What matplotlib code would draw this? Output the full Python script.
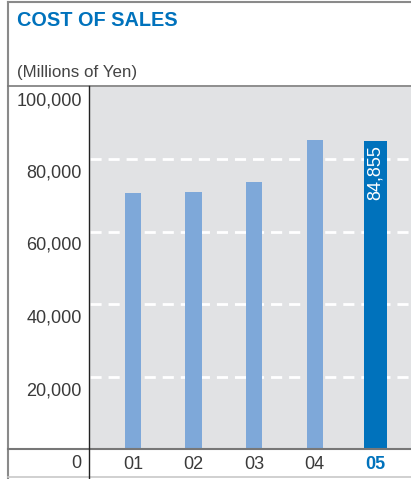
import matplotlib
matplotlib.use("Agg")
import matplotlib.pyplot as plt
from matplotlib.lines import Line2D
from matplotlib.transforms import ScaledTranslation

plt.rcParams['font.family'] = ['Liberation Sans', 'DejaVu Sans']

years = ['01', '02', '03', '04', '05']
cost_of_sales = [70600, 70900, 73700, 85200, 84855]
y_ticks = [0, 20000, 40000, 60000, 80000, 100000]
y_labels = ['0', '20,000', '40,000', '60,000', '80,000', '100,000']

W, H = 411, 479
fig = plt.figure(figsize=(W / 100, H / 100), dpi=100)

def fx(px):
    return px / W

def fy(py):
    return 1 - py / H

ax = fig.add_axes([fx(90), fy(449), 1 - fx(90), fy(86.5) - fy(449)])
ax.set_facecolor('#e1e2e4')
for s in ax.spines.values():
    s.set_visible(False)

light = '#7ea8d9'
dark = '#0072bc'
x = list(range(len(years)))
widths = [0.27] * 4 + [0.38]
colors = [light] * 4 + [dark]
ax.bar(x, cost_of_sales, width=widths, color=colors, zorder=3)

for v in y_ticks[1:-1]:
    ax.axhline(v, color='white', lw=2, ls=(0, (4, 2.5)), zorder=2)

ax.set_xlim(-0.71, 4.59)
ax.set_ylim(0, 100000)

ax.set_yticks(y_ticks)
ax.set_yticklabels(y_labels, fontsize=13, color='#3a3a3a')
ax.tick_params(axis='y', length=0, pad=6)
off = ScaledTranslation(0, -12 / 100, fig.dpi_scale_trans)
for lab in ax.get_yticklabels():
    lab.set_transform(lab.get_transform() + off)

ax.set_xticks(x)
ax.set_xticklabels(years, fontsize=13, color='#3a3a3a')
ax.tick_params(axis='x', length=0, pad=5)
last = ax.get_xticklabels()[-1]
last.set_color('#0072bc')
last.set_fontweight('bold')

ax.annotate(f"{cost_of_sales[-1]:,}", xy=(4, cost_of_sales[-1]), xytext=(0, -3),
            textcoords='offset points', rotation=90, ha='center', va='top',
            color='white', fontsize=13, zorder=4)

# frame lines
def hline(y, x0, x1, color, lw):
    fig.add_artist(Line2D([fx(x0), fx(x1)], [fy(y), fy(y)], color=color, lw=lw))

def vline(xp, y0, y1, color, lw):
    fig.add_artist(Line2D([fx(xp), fx(xp)], [fy(y0), fy(y1)], color=color, lw=lw))

hline(2, 8, W, '#8a8a8a', 1.5)
vline(8, 2, H, '#8a8a8a', 1.5)
hline(85.5, 8, W, '#7a7a7a', 1.2)
hline(449, 8, W, '#777777', 1.5)
hline(477, 8, W, '#c8c8c8', 1.2)
vline(89, 86, H, '#222222', 1.0)

fig.text(fx(17), fy(21), 'COST OF SALES', fontsize=14.3, fontweight='bold',
         color='#0072bc', va='center', ha='left')
fig.text(fx(17), fy(72), '(Millions of Yen)', fontsize=12.2, color='#444444',
         va='center', ha='left')

fig.savefig('out.png', dpi=100)
